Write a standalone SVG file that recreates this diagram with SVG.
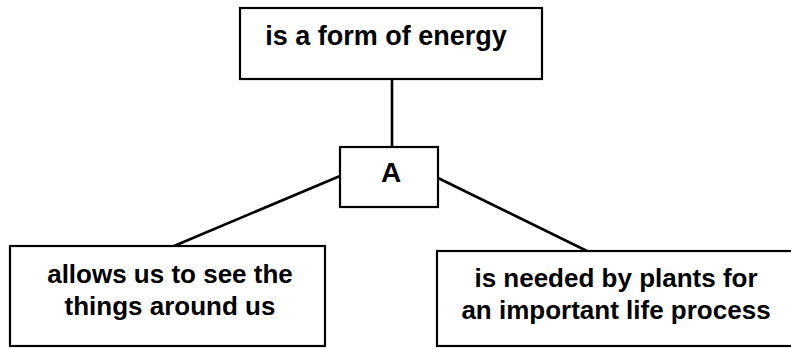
<svg xmlns="http://www.w3.org/2000/svg" width="791" height="349" viewBox="0 0 791 349">
  <style>
    .box { fill: #ffffff; stroke: #000000; stroke-width: 2.2; }
    .label { font-family: "Liberation Sans", Arial, sans-serif; font-weight: bold; font-size: 26px; fill: #000000; text-anchor: middle; }
    .link { stroke: #000000; stroke-width: 2.6; fill: none; stroke-linecap: round; }
  </style>
  <rect width="791" height="349" fill="#ffffff"/>

  <g id="connectors">
    <line class="link" x1="392" y1="79" x2="392" y2="148"/>
    <line class="link" x1="340" y1="176" x2="174" y2="246"/>
    <line class="link" x1="438" y1="178" x2="587" y2="251"/>
  </g>

  <g id="node-energy">
    <rect class="box" x="240" y="8" width="302" height="71"/>
    <text class="label" x="386" y="45" style="font-size:27px">is a form of energy</text>
  </g>

  <g id="node-a">
    <rect class="box" x="340" y="147" width="98" height="60"/>
    <text class="label" x="391" y="182" style="font-size:28px">A</text>
  </g>

  <g id="node-see">
    <rect class="box" x="10" y="246" width="315" height="100"/>
    <text class="label" x="170" y="283">allows us to see the</text>
    <text class="label" x="170" y="315">things around us</text>
  </g>

  <g id="node-plants">
    <rect class="box" x="437" y="251" width="370" height="95"/>
    <text class="label" x="616" y="287">is needed by plants for</text>
    <text class="label" x="616" y="319">an important life process</text>
  </g>
</svg>
